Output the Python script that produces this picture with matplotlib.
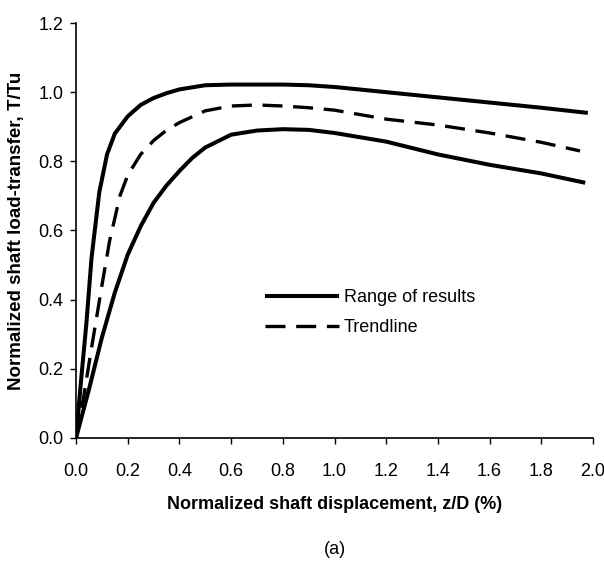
import matplotlib
matplotlib.use("Agg")
import matplotlib.pyplot as plt
from matplotlib import font_manager as fm

# ---- data ----
x_upper = [0, 0.02, 0.04, 0.06, 0.09, 0.12, 0.15, 0.2, 0.25, 0.3, 0.35, 0.4, 0.5,
           0.6, 0.8, 0.9, 1.0, 1.2, 1.4, 1.6, 1.8, 1.98]
upper = [0, 0.17, 0.33, 0.52, 0.71, 0.82, 0.88, 0.93, 0.963, 0.983, 0.997, 1.008, 1.02,
         1.022, 1.022, 1.02, 1.015, 1.0, 0.985, 0.97, 0.955, 0.94]

x_lower = [0, 0.05, 0.1, 0.15, 0.2, 0.25, 0.3, 0.35, 0.4, 0.45, 0.5, 0.6, 0.7, 0.8,
           0.9, 1.0, 1.2, 1.4, 1.6, 1.8, 1.97]
lower = [0, 0.14, 0.29, 0.42, 0.53, 0.612, 0.68, 0.73, 0.772, 0.81, 0.84, 0.877, 0.889,
         0.893, 0.891, 0.882, 0.857, 0.82, 0.79, 0.765, 0.738]

x_trend = [0, 0.03, 0.06, 0.1, 0.13, 0.17, 0.2, 0.25, 0.3, 0.35, 0.4, 0.5, 0.6, 0.7,
           0.8, 0.9, 1.0, 1.2, 1.4, 1.6, 1.8, 1.95]
trend = [0, 0.12, 0.26, 0.44, 0.57, 0.70, 0.76, 0.82, 0.86, 0.89, 0.912, 0.946, 0.96,
         0.963, 0.96, 0.955, 0.948, 0.922, 0.905, 0.882, 0.855, 0.83]

x_ticks = [0.0, 0.2, 0.4, 0.6, 0.8, 1.0, 1.2, 1.4, 1.6, 1.8, 2.0]
y_ticks = [0.0, 0.2, 0.4, 0.6, 0.8, 1.0, 1.2]

x_label = "Normalized shaft displacement, z/D (%)"
y_label = "Normalized shaft load-transfer, T/Tu"
legend_labels = ["Range of results", "Trendline"]
caption = "(a)"

# ---- font choice ----
names = {f.name for f in fm.fontManager.ttflist}
fam = "Liberation Sans Narrow" if "Liberation Sans Narrow" in names else "Liberation Sans"
plt.rcParams["font.family"] = [fam, "DejaVu Sans"]

fig = plt.figure(figsize=(6.04, 5.69), dpi=100)
ax = fig.add_axes([76 / 604, 1 - 438 / 569, 517 / 604, 415 / 569])

lw = 2.9
ax.plot(x_upper, upper, color="black", lw=lw, solid_capstyle="butt",
        label=legend_labels[0])
ax.plot(x_lower, lower, color="black", lw=lw, solid_capstyle="butt")
ax.plot(x_trend, trend, color="black", lw=2.4, dashes=(6, 3.2),
        label=legend_labels[1])

ax.set_xlim(0, 2.0)
ax.set_ylim(0, 1.2)
ax.set_xticks(x_ticks)
ax.set_yticks(y_ticks)
ax.set_xticklabels([f"{v:.1f}" for v in x_ticks])
ax.set_yticklabels([f"{v:.1f}" for v in y_ticks])
ax.tick_params(axis="both", direction="out", length=4, width=1, labelsize=13)
ax.tick_params(axis="x", pad=14)
ax.tick_params(axis="y", pad=5)
for s in ["top", "right"]:
    ax.spines[s].set_visible(False)
for s in ["left", "bottom"]:
    ax.spines[s].set_linewidth(1.2)

ax.set_xlabel(x_label, fontsize=13, fontweight="bold")
ax.xaxis.set_label_coords(0.5, -0.14)
ax.set_ylabel(y_label, fontsize=13.5, fontweight="bold")
ax.yaxis.set_label_coords(-0.098, 0.5)

ax.legend(loc="upper left", bbox_to_anchor=(0.366, 0.358), frameon=False,
          fontsize=13, handlelength=4.1, handletextpad=0.25, labelspacing=0.7,
          borderpad=0, borderaxespad=0)

fig.text(335 / 604, 1 - 549 / 569, caption, fontsize=13, ha="center", va="center")

fig.savefig("out.png", dpi=100)
